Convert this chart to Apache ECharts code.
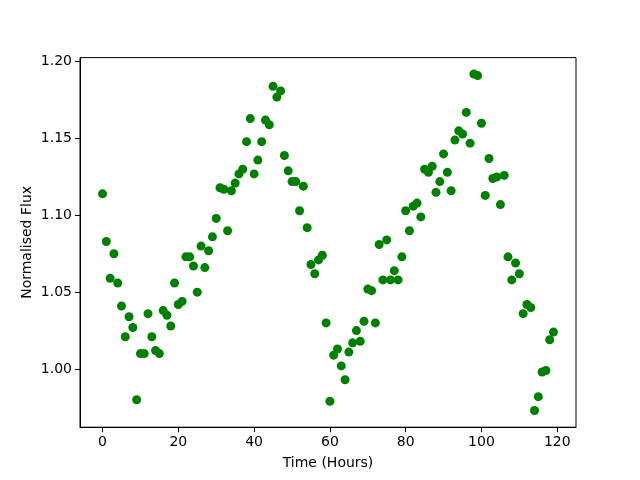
<!DOCTYPE html>
<html>
<head>
<meta charset="utf-8">
<script src="https://cdn.jsdelivr.net/npm/echarts@6/dist/echarts.min.js"></script>
<style>
  html, body { margin: 0; padding: 0; background: #fff; }
  #chart { width: 640px; height: 480px; }
</style>
</head>
<body>
<div id="chart"></div>
<script>
// time of each sample, hours
const hours = [
  0, 1, 2, 3, 4, 5, 6, 7, 8, 9, 10, 11, 12, 13, 14, 15, 16, 17, 18, 19,
  20, 21, 22, 23, 24, 25, 26, 27, 28, 29, 30, 31, 32, 33, 34, 35, 36, 37, 38, 39,
  40, 41, 42, 43, 44, 45, 46, 47, 48, 49, 50, 51, 52, 53, 54, 55, 56, 57, 58, 59,
  60, 61, 62, 63, 64, 65, 66, 67, 68, 69, 70, 71, 72, 73, 74, 75, 76, 77, 78, 79,
  80, 81, 82, 83, 84, 85, 86, 87, 88, 89, 90, 91, 92, 93, 94, 95, 96, 97, 98, 99,
  100, 101, 102, 103, 104, 105, 106, 107, 108, 109, 110, 111, 112, 113, 114, 115, 116, 117, 118, 119
]
// normalised flux
const flux = [
  1.114, 1.083, 1.059, 1.075, 1.056, 1.041, 1.021, 1.034, 1.027, 0.980,
  1.010, 1.010, 1.036, 1.021, 1.012, 1.010, 1.038, 1.035, 1.028, 1.056,
  1.042, 1.044, 1.073, 1.073, 1.067, 1.050, 1.080, 1.066, 1.077, 1.086,
  1.098, 1.118, 1.117, 1.090, 1.116, 1.121, 1.127, 1.130, 1.148, 1.163,
  1.127, 1.136, 1.148, 1.162, 1.159, 1.184, 1.177, 1.181, 1.139, 1.129,
  1.122, 1.122, 1.103, 1.119, 1.092, 1.068, 1.062, 1.071, 1.074, 1.030,
  0.979, 1.009, 1.013, 1.002, 0.993, 1.011, 1.017, 1.025, 1.018, 1.031,
  1.052, 1.051, 1.030, 1.081, 1.058, 1.084, 1.058, 1.064, 1.058, 1.073,
  1.103, 1.090, 1.106, 1.108, 1.099, 1.130, 1.128, 1.132, 1.115, 1.122,
  1.140, 1.128, 1.116, 1.149, 1.155, 1.153, 1.167, 1.147, 1.192, 1.191,
  1.160, 1.113, 1.137, 1.124, 1.125, 1.107, 1.126, 1.073, 1.058, 1.069,
  1.062, 1.036, 1.042, 1.040, 0.973, 0.982, 0.998, 0.999, 1.019, 1.024
]
const xTicks = [0, 20, 40, 60, 80, 100, 120]
const yTicks = [1.00, 1.05, 1.10, 1.15, 1.20]

const chart = echarts.init(document.getElementById('chart'))
const font = 'DejaVu Sans'
const option = {
  animation: false,
  backgroundColor: '#fff',
  grid: {
    left: 80, right: 64, top: 57.6, bottom: 52.8,
    show: true, borderColor: '#000', borderWidth: 1, backgroundColor: 'transparent'
  },
  xAxis: {
    type: 'value',
    min: -5.95,
    max: 124.95,
    name: 'Time (Hours)',
    nameLocation: 'middle',
    nameGap: 29,
    nameMoveOverlap: false,
    nameTextStyle: { color: '#000', fontSize: 14, fontFamily: font },
    axisLine: { show: true, onZero: false, lineStyle: { color: '#000', width: 1 } },
    axisTick: { show: true, inside: false, length: 5, customValues: xTicks, lineStyle: { color: '#000' } },
    axisLabel: { customValues: xTicks, color: '#000', fontSize: 14, fontFamily: font, margin: 8 },
    splitLine: { show: false }
  },
  yAxis: {
    type: 'value',
    min: 0.9621,
    max: 1.2027,
    name: 'Normalised Flux',
    nameLocation: 'middle',
    nameGap: 46,
    nameMoveOverlap: false,
    nameTextStyle: { color: '#000', fontSize: 14, fontFamily: font },
    axisLine: { show: true, onZero: false, lineStyle: { color: '#000', width: 1 } },
    axisTick: { show: true, inside: false, length: 5, customValues: yTicks, lineStyle: { color: '#000' } },
    axisLabel: {
      customValues: yTicks, color: '#000', fontSize: 14, fontFamily: font, margin: 8,
      formatter: v => v.toFixed(2)
    },
    splitLine: { show: false }
  },
  series: [{
    type: 'scatter',
    symbolSize: 9,
    itemStyle: { color: '#008000', opacity: 1 },
    data: hours.map((h, i) => [h, flux[i]])
  }]
}
chart.setOption(option)
</script>
</body>
</html>
